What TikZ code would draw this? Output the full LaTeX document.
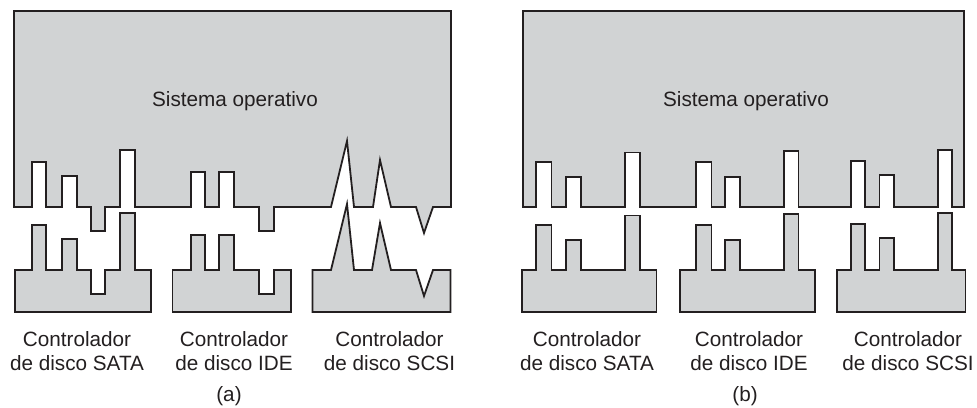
\documentclass[tikz,border=0pt]{standalone}
\usepackage{fontspec}
\setmainfont{Liberation Sans}
\definecolor{inkc}{HTML}{231F20}
\definecolor{fillc}{HTML}{D1D3D4}
\begin{document}
\begin{tikzpicture}[x=1pt,y=-1pt,
  part/.style={draw=inkc,fill=fillc,line width=1.8pt,line join=miter},
  lbl/.style={inner sep=0pt,text=inkc,font=\fontsize{20.7}{24}\selectfont,align=center,anchor=base},
  ttl/.style={inner sep=0pt,text=inkc,font=\fontsize{20.7}{24}\selectfont,anchor=base}]
\useasboundingbox (0,0) rectangle (977,407);
% ---------------- (a) ----------------
\draw[part] (14,11) -- (14,207) -- (32,207) -- (32,162) -- (46,162) -- (46,207)
  -- (62,207) -- (62,176) -- (77,176) -- (77,207) -- (91,207) -- (91,231) -- (105,231)
  -- (105,207) -- (120,207) -- (120,150) -- (135,150) -- (135,207)
  -- (191,207) -- (191,172) -- (205,172) -- (205,207) -- (219,207) -- (219,172)
  -- (234,172) -- (234,207) -- (259,207) -- (259,231) -- (274,231) -- (274,207)
  -- (331,207) -- (347,141) -- (354,207) -- (373,207) -- (380,160) -- (391,207)
  -- (416,207) -- (424,233) -- (433,207) -- (451,207) -- (451,11) -- cycle;
\draw[part] (15,312) -- (15,270) -- (32,270) -- (32,225) -- (46,225) -- (46,270)
  -- (62,270) -- (62,239) -- (77,239) -- (77,270) -- (91,270) -- (91,294) -- (105,294)
  -- (105,270) -- (120,270) -- (120,213) -- (135,213) -- (135,270) -- (151,270)
  -- (151,312) -- cycle;
\draw[part] (172.5,312) -- (172.5,270) -- (191,270) -- (191,235) -- (205,235)
  -- (205,270) -- (219,270) -- (219,235) -- (234,235) -- (234,270) -- (259,270)
  -- (259,294) -- (274,294) -- (274,270) -- (291,270) -- (291,312) -- cycle;
\draw[part] (312.5,312) -- (312.5,270) -- (331,270) -- (347,204) -- (354,270)
  -- (372,270) -- (380,223) -- (391,270) -- (416,270) -- (424,296) -- (433,270)
  -- (450.5,270) -- (450.5,312) -- cycle;
\node[ttl] (osa) at (235,106) {Sistema operativo};
\node[lbl] (sataa) at (77,370.5) {Controlador\\de disco SATA};
\node[lbl] (idea) at (234,370.5) {Controlador\\de disco IDE};
\node[lbl] (scsia) at (389.5,370.5) {Controlador\\de disco SCSI};
\node[ttl] (capa) at (229,401.5) {(a)};
% ---------------- (b) ----------------
\draw[part] (523,11) -- (523,207) -- (536,207) -- (536,162) -- (551.5,162) -- (551.5,207)
  -- (566,207) -- (566,177) -- (581,177) -- (581,207) -- (625,207) -- (625,152.5)
  -- (640,152.5) -- (640,207) -- (696,207) -- (696,162) -- (711.5,162) -- (711.5,207)
  -- (725,207) -- (725,177) -- (740,177) -- (740,207) -- (784,207) -- (784,151)
  -- (798.5,151) -- (798.5,207) -- (851,207) -- (851,161) -- (865,161) -- (865,207)
  -- (879.5,207) -- (879.5,175) -- (894,175) -- (894,207) -- (938,207) -- (938,150)
  -- (952,150) -- (952,207) -- (964,207) -- (964,11) -- cycle;
\draw[part] (522,312) -- (522,270) -- (536,270) -- (536,225) -- (551.5,225) -- (551.5,270)
  -- (566,270) -- (566,240) -- (581,240) -- (581,270) -- (625,270) -- (625,215.5)
  -- (640,215.5) -- (640,270) -- (656.5,270) -- (656.5,312) -- cycle;
\draw[part] (680,312) -- (680,270) -- (696,270) -- (696,225) -- (711.5,225) -- (711.5,270)
  -- (725,270) -- (725,240) -- (740,240) -- (740,270) -- (784,270) -- (784,214)
  -- (798.5,214) -- (798.5,270) -- (815,270) -- (815,312) -- cycle;
\draw[part] (837,312) -- (837,270) -- (851,270) -- (851,224) -- (865,224) -- (865,270)
  -- (879.5,270) -- (879.5,238) -- (894,238) -- (894,270) -- (938,270) -- (938,213)
  -- (952,213) -- (952,270) -- (965.5,270) -- (965.5,312) -- cycle;
\node[ttl] (osb) at (746,106) {Sistema operativo};
\node[lbl] (satab) at (587,370.5) {Controlador\\de disco SATA};
\node[lbl] (ideb) at (749,370.5) {Controlador\\de disco IDE};
\node[lbl] (scsib) at (908,370.5) {Controlador\\de disco SCSI};
\node[ttl] (capb) at (745,401.5) {(b)};
\end{tikzpicture}
\end{document}
